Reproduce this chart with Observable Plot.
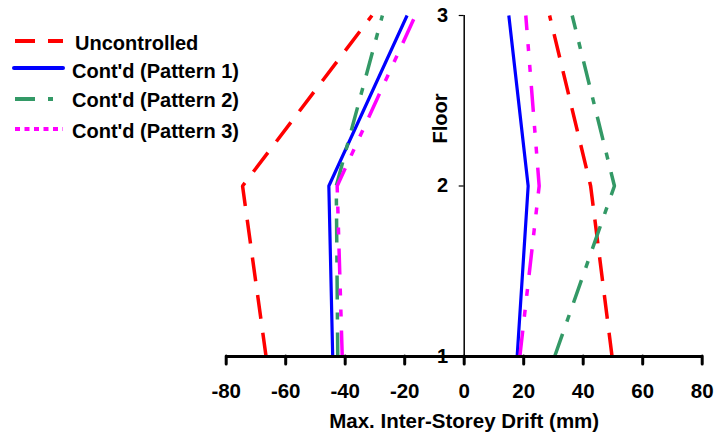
<!DOCTYPE html>
<html>
<head>
<meta charset="utf-8">
<script src="https://cdn.jsdelivr.net/npm/d3@7"></script>
<script src="https://cdn.jsdelivr.net/npm/@observablehq/plot@0.6"></script>
<style>
  html, body { margin: 0; padding: 0; background: #fff; }
  #wrap { position: relative; width: 714px; height: 437px; font-family: "Liberation Sans", Arial, sans-serif; }
  #legend { position: absolute; left: 0; top: 0; }
</style>
</head>
<body>
<div id="wrap"></div>
<script>
// ---- Data ----
const floors = [1, 2, 3];
const seriesNames = ["Uncontrolled", "Cont'd (Pattern 1)", "Cont'd (Pattern 2)", "Cont'd (Pattern 3)"];
const uncontrolledLeft  = [-66.6, -74.5, -31.0];
const uncontrolledRight = [49.7, 42.5, 28.7];
const pattern1Left  = [-44.2, -45.5, -19.2];
const pattern1Right = [17.8, 21.5, 15.0];
const pattern2Left  = [-42.5, -43.0, -27.5];
const pattern2Right = [30.4, 50.5, 36.3];
const pattern3Left  = [-41.0, -42.7, -16.4];
const pattern3Right = [18.7, 25.2, 20.7];
const xTicks = [-80, -60, -40, -20, 0, 20, 40, 60, 80];
const floorTicks = [1, 2, 3];
const xLabel = "Max. Inter-Storey Drift (mm)";
const yLabel = "Floor";

// ---- Styles ----
const colors = ["#FF0000", "#0000FF", "#339966", "#FF00FF"];
const dashes = ["24,14", null, "24,13,7,13", "26,14,7,14,7,14"];
const widths = [3.5, 3.2, 3.5, 3.5];

const seriesData = [
  [uncontrolledLeft, uncontrolledRight],
  [pattern1Left, pattern1Right],
  [pattern2Left, pattern2Right],
  [pattern3Left, pattern3Right]
];
const rows = [];
seriesData.forEach((pair, i) => {
  pair.forEach((vals, s) => {
    vals.forEach((v, k) => rows.push({series: seriesNames[i], side: s ? "R" : "L", floor: floors[k], drift: v}));
  });
});

const font = {fontFamily: "Liberation Sans, Arial, sans-serif", fontWeight: "bold"};

const lineMarks = seriesNames.map((name, i) =>
  Plot.line(rows.filter(d => d.series === name), {
    x: "drift", y: "floor", z: "side",
    stroke: colors[i], strokeWidth: widths[i],
    strokeDasharray: dashes[i] || undefined,
    strokeLinecap: "butt", strokeLinejoin: "miter"
  })
);

const chart = Plot.plot({
  width: 714,
  height: 437,
  marginTop: 15,
  marginBottom: 81,
  marginLeft: 225.7,
  marginRight: 12.3,
  style: {background: "transparent", overflow: "visible"},
  x: {domain: [-80, 80], axis: null},
  y: {domain: [1, 3], axis: null},
  marks: [
    // y-axis at x=0
    Plot.text(floorTicks, {x: 0, y: d => d, text: d => String(d), dx: -16, textAnchor: "end", fontSize: 20, ...font, fill: "black"}),
    Plot.ruleY(floorTicks, {y: d => d, x1: 0, x2: 0, insetLeft: -5, stroke: "black", strokeWidth: 1.2}),
    Plot.ruleX([0], {stroke: "black", strokeWidth: 1.5}),
    Plot.text([yLabel], {x: 0, frameAnchor: "top", dy: 103, dx: -24, rotate: -90, lineAnchor: "middle", fontSize: 20, ...font, fill: "black"}),
    ...lineMarks,
    // x-axis
    Plot.ruleY([1], {stroke: "black", strokeWidth: 3}),
    Plot.axisX({ticks: xTicks, tickFormat: d => String(d), tickSize: 8, tickPadding: 19, strokeWidth: 3, strokeLinecap: "round", fontSize: 20.5, ...font, label: null, anchor: "bottom", color: "black"}),
    Plot.text([xLabel], {frameAnchor: "bottom", dy: 65, lineAnchor: "middle", fontSize: 20.5, ...font, fill: "black"})
  ]
});
document.getElementById("wrap").appendChild(chart);

// ---- Legend (HTML/SVG overlay) ----
const ns = "http://www.w3.org/2000/svg";
const leg = document.createElementNS(ns, "svg");
leg.setAttribute("id", "legend");
leg.setAttribute("width", 260);
leg.setAttribute("height", 150);
const legDash = ["20,13", null, "20,13,5,13", "5,4.5"];
const legY = [41, 68, 99, 129];
const legTextY = [43, 71, 100, 131];
seriesNames.forEach((name, i) => {
  const l = document.createElementNS(ns, "line");
  l.setAttribute("x1", i === 1 ? 14 : 15);
  l.setAttribute("x2", 63);
  l.setAttribute("y1", legY[i]);
  l.setAttribute("y2", legY[i]);
  l.setAttribute("stroke", colors[i]);
  l.setAttribute("stroke-width", 4);
  if (i === 1) l.setAttribute("stroke-linecap", "round");
  if (legDash[i]) l.setAttribute("stroke-dasharray", legDash[i]);
  leg.appendChild(l);
  const t = document.createElementNS(ns, "text");
  t.setAttribute("x", i === 0 ? 75 : 72);
  t.setAttribute("y", legTextY[i]);
  t.setAttribute("dy", "0.35em");
  t.setAttribute("font-family", "Liberation Sans, Arial, sans-serif");
  t.setAttribute("font-weight", "bold");
  t.setAttribute("font-size", 20);
  t.textContent = name;
  leg.appendChild(t);
});
document.getElementById("wrap").appendChild(leg);
</script>
</body>
</html>
